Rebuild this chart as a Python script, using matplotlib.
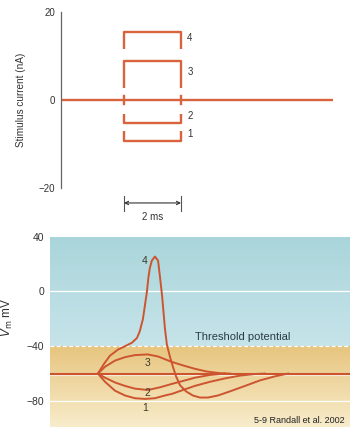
import matplotlib
matplotlib.use("Agg")
import matplotlib.pyplot as plt
import numpy as np

plt.rcParams['font.family'] = ['Liberation Sans', 'DejaVu Sans']

# Stimulus pulses (top panel)
pulse_labels = ['1', '2', '3', '4']
pulse_amp = [-9.3, -5.2, 8.9, 15.5]          # nA
pulse_leg = [2.2, 2.0, 6.2, 4.0]             # length of bracket sides
pulse_start = 0.0
pulse_dur = 2.0                               # ms

# Membrane potential responses (bottom panel), time in ms, Vm in mV
t4 = [0, 0.21, 0.42, 0.70, 0.95, 1.19, 1.37, 1.47, 1.58, 1.65, 1.72, 1.77, 1.82, 1.89,
      2.0, 2.11, 2.18, 2.25, 2.30, 2.35, 2.42, 2.53, 2.63, 2.74, 2.88, 3.09, 3.33, 3.58,
      3.86, 4.21, 4.63, 5.16, 5.68, 6.21, 6.67]
v4 = [-60, -53, -47, -42.5, -40, -37.5, -34, -29, -20, -10, 0, 10, 17, 22.5,
      25.5, 22.5, 10, -3, -15, -27, -39, -48, -55, -62, -68.5, -73, -76, -77.5,
      -77.5, -76, -73, -69, -65, -62, -60]
t3 = [0, 0.25, 0.60, 0.95, 1.30, 1.75, 2.11, 2.35, 2.60, 2.98, 3.40, 3.82, 4.28, 4.63]
v3 = [-60, -55, -50.5, -48, -46.5, -46, -47.5, -49.5, -51.5, -54, -56.5, -58.5, -59.7, -60]
t2 = [0, 0.25, 0.60, 0.95, 1.30, 1.75, 2.18, 2.60, 3.05, 3.40, 3.93, 4.46]
v2 = [-60, -63, -66.5, -69, -71, -72, -70, -67.5, -65, -63, -61, -60]
t1 = [0, 0.25, 0.60, 0.95, 1.30, 1.65, 2.0, 2.35, 2.60, 3.05, 3.40, 3.93, 4.46, 4.98, 5.51, 5.86]
v1 = [-60, -66, -72.5, -76, -78, -78.5, -78, -76, -74.8, -71.5, -69, -66, -63.5, -61.5, -60.3, -60]
resting = -60
threshold = -40
vm_ticks = [40, 0, -40, -80]

orange = '#d8633c'
curve_col = '#cc5530'

fig = plt.figure(figsize=(3.5, 4.3), dpi=100)

# ---- top panel
ax1 = fig.add_axes([61/350, 1-188/430, 272/350, 176/430])
ax1.set_xlim(-2.21, 7.33)
ax1.set_ylim(-20, 20)
for s in ['top', 'right', 'bottom']:
    ax1.spines[s].set_visible(False)
ax1.spines['left'].set_color('#666666')
ax1.spines['left'].set_linewidth(0.9)
ax1.set_xticks([])
ax1.set_yticks([20, 0, -20])
ax1.set_yticklabels(['20', '0', '\u221220'])
ax1.tick_params(axis='y', length=0, pad=4, labelsize=7, labelcolor='#333333')
ax1.set_ylabel('Stimulus current (nA)', fontsize=7.2, color='#333333')
ax1.yaxis.set_label_coords(-0.13, 0.5)

ax1.axhline(0, color=orange, lw=1.7, zorder=2)
t_end = pulse_start + pulse_dur
for lab, a, leg in zip(pulse_labels, pulse_amp, pulse_leg):
    sgn = np.sign(a)
    inner = a - sgn * leg
    ax1.plot([pulse_start, pulse_start, t_end, t_end], [inner, a, a, inner],
             color=orange, lw=1.7, solid_capstyle='butt', zorder=3)
    ax1.text(t_end + 0.22, (a + inner) / 2 + 0.5, lab, fontsize=7, color='#333333',
             va='center', ha='left')
# little marks where the pulse edges cross zero
for tx in [pulse_start, t_end]:
    ax1.plot([tx, tx], [-1.0, 1.0], color=orange, lw=1.7, zorder=3)

# scale bar
ax1.annotate('', xy=(pulse_start, -23.4), xytext=(t_end, -23.4),
             arrowprops=dict(arrowstyle='<->', color='#333333', lw=0.8,
                             mutation_scale=6, shrinkA=0, shrinkB=0),
             annotation_clip=False)
for tx in [pulse_start, t_end]:
    ax1.plot([tx, tx], [-21.8, -25.2], color='#555555', lw=0.8, clip_on=False)
ax1.text((pulse_start + t_end) / 2, -25.5, '2 ms', fontsize=7, color='#333333',
         ha='center', va='top')

# ---- bottom panel
ax2 = fig.add_axes([50/350, 1-426.7/430, 300/350, 190/430])
x0, x1 = -1.68, 8.84
y0, y1 = -98.8, 40

def vgrad(c_top, c_bot, n=100):
    ct = np.array(matplotlib.colors.to_rgb(c_top))
    cb = np.array(matplotlib.colors.to_rgb(c_bot))
    f = np.linspace(0, 1, n)[:, None]
    return (ct * (1 - f) + cb * f)[:, None, :]

ax2.imshow(vgrad('#a9d5da', '#c6e4ea'), extent=[x0, x1, threshold, y1],
           aspect='auto', zorder=0)
ax2.imshow(vgrad('#e7c57f', '#f8eccb'), extent=[x0, x1, y0, threshold],
           aspect='auto', zorder=0)
ax2.set_xlim(x0, x1)
ax2.set_ylim(y0, y1)

ax2.axhline(0, color='white', lw=0.9, zorder=1)
ax2.axhline(threshold, color='white', lw=0.9, ls=(0, (3, 2)), zorder=1)
ax2.axhline(-80, color='white', lw=0.9, zorder=1)
ax2.axhline(resting - 1.2, color='white', lw=0.9, alpha=0.7, zorder=1)
ax2.axhline(resting, color=curve_col, lw=1.5, zorder=2)

for t, v in [(t1, v1), (t2, v2), (t3, v3), (t4, v4)]:
    ax2.plot(t, v, color=curve_col, lw=1.4, zorder=3, solid_joinstyle='round')

for s in ax2.spines.values():
    s.set_visible(False)
ax2.set_xticks([])
ax2.set_yticks(vm_ticks)
ax2.set_yticklabels(['40', '0', '\u221240', '\u221280'])
ax2.tick_params(axis='y', length=0, pad=4, labelsize=7.5, labelcolor='#333333')
ax2.set_ylabel('$V_\\mathrm{m}$ mV', fontsize=8.5, color='#333333')
ax2.yaxis.set_label_coords(-0.117, 0.577)

lab_col = '#3c3a2a'
ax2.text(1.65, 22.6, '4', fontsize=7.5, color=lab_col, ha='center', va='center')
ax2.text(1.75, -52, '3', fontsize=7.5, color=lab_col, ha='center', va='center')
ax2.text(1.75, -74.5, '2', fontsize=7.5, color=lab_col, ha='center', va='center')
ax2.text(1.65, -85.5, '1', fontsize=7.5, color=lab_col, ha='center', va='center')
ax2.text(3.4, -33.5, 'Threshold potential', fontsize=8, color='#2a3b48',
         ha='left', va='center')
ax2.text(8.65, -94, '5-9 Randall et al. 2002', fontsize=6.5, color='#222222',
         ha='right', va='center')

fig.savefig('out.png', dpi=100)
